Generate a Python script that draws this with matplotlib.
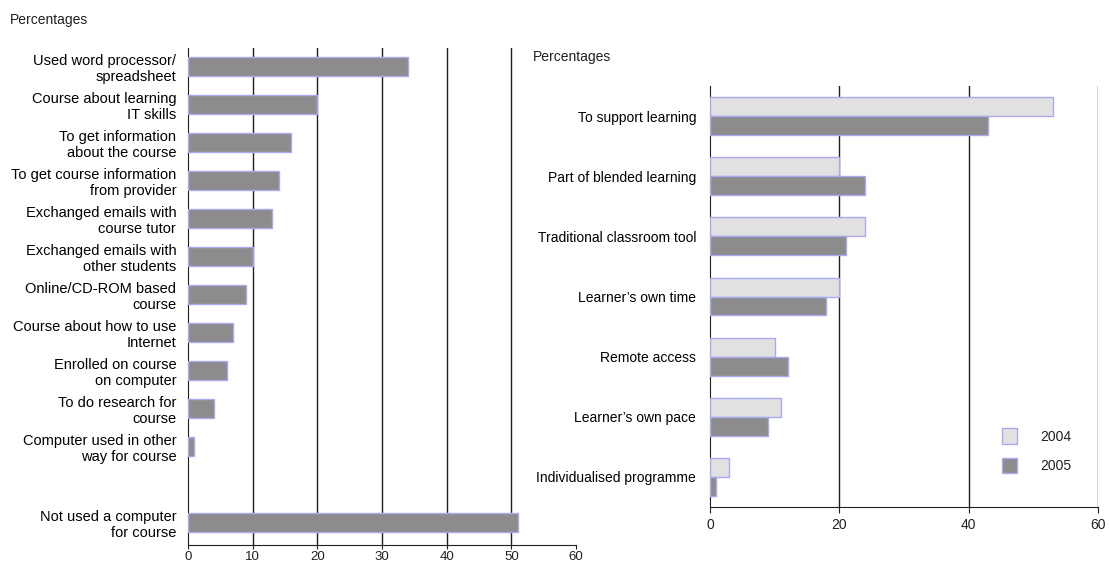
import matplotlib
matplotlib.use("Agg")
import matplotlib.pyplot as plt
import numpy as np

plt.rcParams['font.family'] = ['Liberation Sans', 'DejaVu Sans']
plt.rcParams['font.size'] = 10
plt.rcParams['text.color'] = '#231f20'

# left panel: ways computers were used for the course
uses = ['Used word processor/\nspreadsheet', 'Course about learning\nIT skills',
        'To get information\nabout the course', 'To get course information\nfrom provider',
        'Exchanged emails with\ncourse tutor', 'Exchanged emails with\nother students',
        'Online/CD-ROM based\ncourse', 'Course about how to use\nInternet',
        'Enrolled on course\non computer', 'To do research for\ncourse',
        'Computer used in other\nway for course', 'Not used a computer\nfor course']
use_pct = [34, 20, 16, 14, 13, 10, 9, 7, 6, 4, 1, 51]
use_pos = [0, 1, 2, 3, 4, 5, 6, 7, 8, 9, 10, 12]

# right panel: reasons for using ILT, 2004 vs 2005
reasons = ['To support learning', 'Part of blended learning', 'Traditional classroom tool',
           "Learner\u2019s own time", 'Remote access', "Learner\u2019s own pace",
           'Individualised programme']
pct_2004 = [53, 20, 24, 20, 10, 11, 3]
pct_2005 = [43, 24, 21, 18, 12, 9, 1]

dark = '#8c8c8c'
light = '#e1e1e1'
edge = '#a9a9f0'
ink = '#231f20'

fig = plt.figure(figsize=(11.09, 5.66), dpi=100)

ax1 = fig.add_axes([0.1695, 0.0371, 0.3499, 0.8781])
ax1.barh(use_pos, use_pct, height=0.5, color=dark, edgecolor=edge, linewidth=1, zorder=3)
ax1.set_xlim(0, 60)
ax1.set_ylim(12.58, -0.5)
ax1.set_xticks(range(0, 61, 10))
ax1.set_yticks(use_pos)
ax1.set_yticklabels(uses, ha='right', linespacing=1.15, fontsize=10.5)
ax1.tick_params(axis='y', length=0, pad=8.5)
ax1.tick_params(axis='x', direction='out', length=3, pad=1, colors=ink, labelsize=9.5)
for x in range(10, 51, 10):
    ax1.axvline(x, color=ink, lw=1, zorder=1)
for s in ['top', 'right']:
    ax1.spines[s].set_visible(False)
ax1.spines['left'].set_color(ink)
ax1.spines['bottom'].set_color(ink)
fig.text(0.009, 0.965, 'Percentages', ha='left', va='center')

ax2 = fig.add_axes([0.6402, 0.1042, 0.3499, 0.7438])
y = np.arange(len(reasons))
bh = 0.315
ax2.barh(y - bh / 2, pct_2004, height=bh, color=light, edgecolor=edge, linewidth=1,
         zorder=3, label='2004')
ax2.barh(y + bh / 2, pct_2005, height=bh, color=dark, edgecolor=edge, linewidth=1,
         zorder=3, label='2005')
ax2.set_xlim(0, 60)
ax2.set_ylim(6.5, -0.5)
ax2.set_xticks(range(0, 61, 20))
ax2.set_yticks(y)
ax2.set_yticklabels(reasons)
ax2.tick_params(axis='y', length=0, pad=10)
ax2.tick_params(axis='x', direction='out', length=4, pad=4, colors=ink)
for x in [20, 40, 60]:
    ax2.axvline(x, color=ink, lw=1, zorder=1)
for s in ['top', 'right']:
    ax2.spines[s].set_visible(False)
ax2.spines['left'].set_color(ink)
ax2.spines['bottom'].set_color(ink)
ax2.legend(loc='lower right', bbox_to_anchor=(0.964, 0.05), frameon=False,
           handlelength=1.1, handleheight=1.3, handletextpad=1.7, labelspacing=1.05)
fig.text(0.4806, 0.899, 'Percentages', ha='left', va='center')

fig.savefig('out.png', dpi=100)
